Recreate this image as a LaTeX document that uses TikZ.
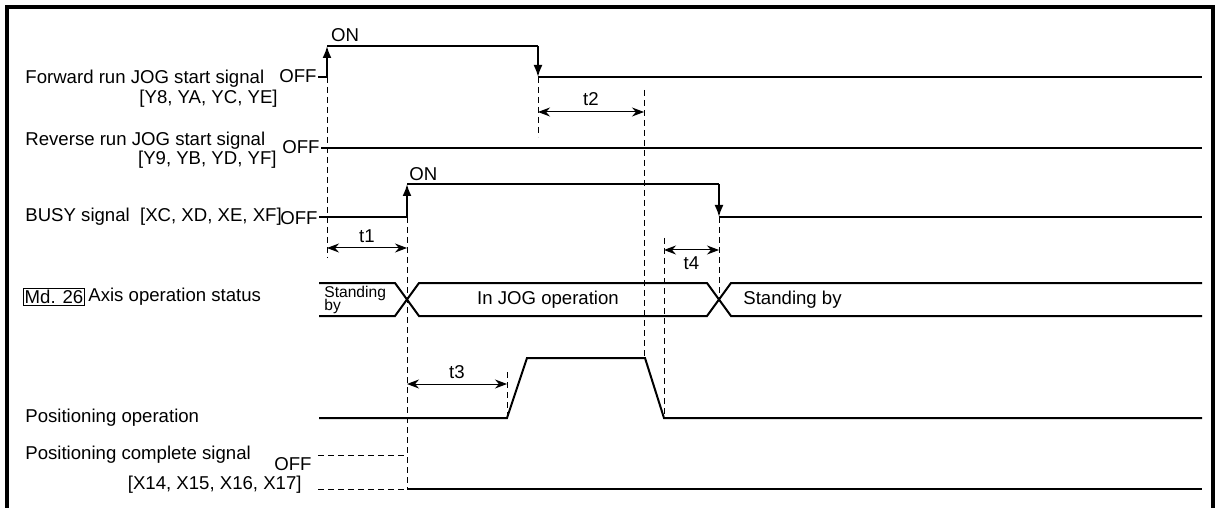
\documentclass[tikz,border=0pt]{standalone}
\usepackage{fontspec}
\setmainfont{Liberation Sans}
\usetikzlibrary{arrows.meta}
\tikzset{
  sig/.style={line width=1pt},
  guide/.style={line width=0.5pt, dash pattern=on 3pt off 2pt},
  edgeup/.style={line width=1pt, -{Latex[length=6pt,width=4.5pt]}},
  dim/.style={line width=0.5pt, {Stealth[length=6pt,width=4.5pt]}-{Stealth[length=6pt,width=4.5pt]}},
  lbl/.style={inner sep=0pt, font=\fontsize{9.3}{11}\selectfont},
  small/.style={inner sep=0pt, align=left, font={\fontsize{7.8}{6.5}\selectfont\lineskiplimit-10pt\relax}},
}
\begin{document}
\begin{tikzpicture}[x=0.5pt, y=-0.5pt]
        \useasboundingbox (0,0) rectangle (1217,508);
        \draw[line width=2pt] (7,508) -- (7,7) -- (1213,7) -- (1213,508);
        % labels on the left
        \node[lbl, anchor=west] (fwd) at (25,79) {Forward run JOG start signal};
        \node[lbl, anchor=east] (fwdaddr) at (278,99) {[Y8, YA, YC, YE]};
        \node[lbl, anchor=west] (rev) at (25,141) {Reverse run JOG start signal};
        \node[lbl, anchor=east] (revaddr) at (277,160) {[Y9, YB, YD, YF]};
        \node[lbl, anchor=west] (busy) at (25,217) {BUSY signal\ \ [XC, XD, XE, XF]};
        \node[lbl, draw, line width=0.5pt, inner sep=0.6pt, anchor=west] (md) at (23,297) {Md. 26};
        \node[lbl, anchor=west] (axis) at (88,297) {Axis operation status};
        \node[lbl, anchor=west] (posop) at (25,418) {Positioning operation};
        \node[lbl, anchor=west] (cmp) at (25,455) {Positioning complete signal};
        \node[lbl, anchor=east] (cmpaddr) at (302,485) {[X14, X15, X16, X17]};
        % OFF / ON levels
        \node[lbl, anchor=east] (fwdoff) at (317,76) {OFF};
        \node[lbl] (fwdon) at (345,35) {ON};
        \node[lbl, anchor=east] (revoff) at (320,147) {OFF};
        \node[lbl, anchor=east] (busyoff) at (318,218) {OFF};
        \node[lbl, anchor=west] (busyon) at (409,174) {ON};
        \node[lbl, anchor=east] (cmpoff) at (312,464) {OFF};
        % forward run JOG start signal
        \coordinate (fr) at (327,77);
        \coordinate (ff) at (538,77);
        \draw[sig] (318,77) -- (fr);
        \draw[edgeup] (fr) -- (327,46);
        \draw[sig] (327,46) -- (538,46);
        \draw[edgeup] (538,46) -- (ff);
        \draw[sig] (ff) -- (1202,77);
        % reverse run JOG start signal
        \draw[sig] (321,148) -- (1202,148);
        % BUSY signal
        \coordinate (br) at (407,217);
        \coordinate (bf) at (719,217);
        \draw[sig] (319,217) -- (br);
        \draw[edgeup] (br) -- (407,184);
        \draw[sig] (407,184) -- (719,184);
        \draw[edgeup] (719,184) -- (bf);
        \draw[sig] (bf) -- (1202,217);
        % axis operation status
        \draw[sig] (319,283) -- (395,283) -- (419,316) -- (707,316) -- (731,283) -- (1202,283);
        \draw[sig] (319,316) -- (395,316) -- (419,283) -- (707,283) -- (731,316) -- (1202,316);
        \node[small, anchor=west] (stby1) at (324,300) {Standing\\by};
        \node[lbl] (jog) at (548,300) {In JOG operation};
        \node[lbl, anchor=west] (stby2) at (743,300) {Standing by};
        % positioning operation
        \draw[sig] (319,418) -- (507,418) -- (527,358) -- (645,358) -- (664,418) -- (1202,418);
        % positioning complete signal
        \coordinate (cf) at (407,489);
        \draw[guide] (318,455) -- (407,455);
        \draw[guide] (318,489) -- (cf);
        \draw[sig] (cf) -- (1202,489);
        % guide lines
        \draw[guide] (fr) -- (327,258);
        \draw[guide] (br) -- (cf);
        \draw[guide] (ff) -- (538,137);
        \draw[guide] (644,90) -- (644,358);
        \draw[guide] (664,238) -- (664,418);
        \draw[guide] (bf) -- (719,300);
        \draw[guide] (507,372) -- (507,418);
        % times
        \draw[dim] (327,248) -- node[lbl, above=2.5pt] (t1) {t1} (407,248);
        \draw[dim] (538,112) -- node[lbl, above=3pt] (t2) {t2} (644,112);
        \draw[dim] (407,384) -- node[lbl, above=2.5pt] (t3) {t3} (507,384);
        \draw[dim] (664,250) -- node[lbl, below=3pt] (t4) {t4} (719,250);
\end{tikzpicture}
\end{document}
